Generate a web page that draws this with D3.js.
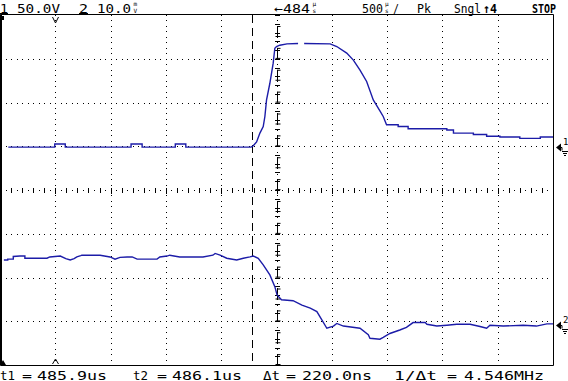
<!DOCTYPE html>
<html>
<head>
<meta charset="utf-8">
<script src="https://cdn.jsdelivr.net/npm/d3@7"></script>
<style>
  body { margin: 0; background: #fff; }
  text { font-family: "DejaVu Sans Mono", monospace; fill: #000; }
</style>
</head>
<body>
<script>
// trace data in screen divisions (x: 0..10, y: -4..4 from center)
var ch1X = [0.15, 0.99, 0.99, 1.18, 1.18, 2.37, 2.37, 2.57, 2.57, 3.17, 3.17, 3.36, 3.36, 4.54, 4.58, 4.64, 4.70, 4.76,
  4.79, 4.82, 4.88, 4.94, 4.97, 5.00, 5.06, 5.19, 5.39, 5.44, 5.50, 5.97, 6.09, 6.27, 6.39, 6.51, 6.63, 6.75, 6.87, 6.93,
  6.99, 7.20, 7.20, 7.38, 7.38, 8.08, 8.08, 8.20, 8.20, 8.56, 8.56, 8.80, 8.80, 9.04, 9.04, 9.40, 9.40, 9.77, 9.77, 10.0];
var ch1Y = [0.98, 0.98, 1.05, 1.05, 0.98, 0.98, 1.05, 1.05, 0.98, 0.98, 1.05, 1.05, 0.98, 0.98, 1.01, 1.10, 1.30, 1.45,
  1.68, 2.06, 2.44, 2.90, 3.24, 3.28, 3.31, 3.34, 3.35, null, 3.35, 3.34, 3.28, 3.13, 2.97, 2.74, 2.48, 2.06, 1.81, 1.68,
  1.49, 1.49, 1.45, 1.45, 1.40, 1.40, 1.37, 1.37, 1.30, 1.30, 1.27, 1.27, 1.23, 1.23, 1.21, 1.21, 1.18, 1.18, 1.21, 1.21];

var ch2X = [0.07, 0.14, 0.14, 0.24, 0.24, 0.36, 0.45, 0.45, 0.85, 0.90, 1.09, 1.19, 1.27, 1.34, 1.39, 1.46, 1.48, 1.81,
  1.99, 2.08, 2.17, 2.30, 2.39, 2.48, 2.84, 2.89, 3.02, 3.07, 3.25, 3.67, 3.85, 3.89, 3.98, 4.10, 4.28, 4.40, 4.52, 4.58,
  4.67, 4.76, 4.88, 4.97, 5.01, 5.09, 5.30, 5.46, 5.61, 5.73, 5.82, 5.91, 6.03, 6.09, 6.21, 6.51, 6.66, 6.69, 6.87, 6.93,
  7.05, 7.23, 7.35, 7.47, 7.69, 7.72, 7.90, 8.08, 8.26, 8.50, 8.68, 8.80, 8.86, 9.10, 9.46, 9.70, 9.89, 10.0];
var ch2Y = [-1.60, -1.60, -1.58, -1.58, -1.52, -1.51, -1.51, -1.56, -1.56, -1.53, -1.51, -1.57, -1.60, -1.57, -1.53,
  -1.50, -1.49, -1.49, -1.53, -1.58, -1.54, -1.53, -1.53, -1.58, -1.58, -1.53, -1.51, -1.49, -1.53, -1.53, -1.49, -1.45,
  -1.49, -1.56, -1.60, -1.56, -1.53, -1.51, -1.56, -1.71, -1.94, -2.21, -2.40, -2.51, -2.53, -2.63, -2.70, -2.78, -2.97,
  -3.16, -3.11, -3.05, -3.11, -3.16, -3.31, -3.39, -3.41, -3.37, -3.28, -3.20, -3.14, -3.03, -3.03, -3.07, -3.11, -3.09,
  -3.07, -3.07, -3.12, -3.16, -3.09, -3.11, -3.09, -3.11, -3.06, -3.06];

// cursors t1, t2 and trigger position (divisions)
var cursorX = [4.56, 5.00];
var trigX = 1.0;
// channel ground levels (divisions)
var groundY = [0.98, -3.08];
var groundNames = ["1", "2"];

var topLabels = ["1", "50.0V", "2", "10.0", "\u2190484", "500", "/", "Pk", "Sngl", "\u21914", "STOP"];
var unitLabels = [["m", "V"], ["\u00b5", "s"], ["\u00b5", "s"]];
var bottomLabels = ["t1", "=", "485.9us", "t2", "=", "486.1us", "\u0394t", "=", "220.0ns", "1/\u0394t", "=", "4.546MHz"];

var svgWidth = 568;
var svgHeight = 381;
var traceColor = "#1c1ca8";

var svg = d3.select("body")
  .append("svg")
  .attr("width", svgWidth)
  .attr("height", svgHeight);

var x = d3.scaleLinear().domain([0, 10]).range([0, 553]);
var y = d3.scaleLinear().domain([-4, 4]).range([365, 15]);

// grid dots
var grid = svg.append("g");
d3.range(1, 10).forEach(function(i) {
  if (i === 5) return;
  d3.range(0, 65).forEach(function(k) {
    grid.append("rect")
      .attr("x", Math.round(x(i)))
      .attr("y", Math.round(y(-4 + k / 8)))
      .attr("width", 1).attr("height", 1).attr("fill", "#000");
  });
});
d3.range(-3, 4).forEach(function(j) {
  if (j === 0) return;
  d3.range(0, 101).forEach(function(k) {
    grid.append("rect")
      .attr("x", Math.round(x(k / 10)))
      .attr("y", Math.round(y(j)))
      .attr("width", 1).attr("height", 1).attr("fill", "#000");
  });
});

// center axes with minor ticks
d3.range(0, 101).forEach(function(k) {
  var px = Math.round(x(k / 10));
  if (k % 2 === 0) {
    grid.append("rect").attr("x", px).attr("y", Math.round(y(0)) - 2)
      .attr("width", 1).attr("height", k % 10 === 0 ? 6 : 5).attr("fill", "#000");
  } else {
    grid.append("rect").attr("x", px).attr("y", Math.round(y(0)))
      .attr("width", 1).attr("height", 1).attr("fill", "#000");
  }
});
d3.range(0, 41).forEach(function(k) {
  var py = Math.round(y(-4 + k / 5));
  grid.append("rect").attr("x", Math.round(x(5)) - 2).attr("y", py)
    .attr("width", 5).attr("height", 1).attr("fill", "#000");
});
d3.range(0, 65).forEach(function(k) {
  grid.append("rect").attr("x", Math.round(x(5))).attr("y", Math.round(y(-4 + k / 8)))
    .attr("width", 1).attr("height", 1).attr("fill", "#000");
});

// frame
svg.append("path")
  .attr("d", "M0.5," + (y(-4) + 0.5) + "V" + (y(4) - 0.5) + "H" + (x(10) + 0.5) + "V" + (y(-4) + 0.5) + "H0.5")
  .attr("fill", "none").attr("stroke", "#000").attr("stroke-width", 1);
svg.append("rect").attr("x", 0).attr("y", 15).attr("width", 2).attr("height", 350).attr("fill", "#000");

// cursors
svg.append("line")
  .attr("x1", Math.round(x(cursorX[0])) + 0.5).attr("x2", Math.round(x(cursorX[0])) + 0.5)
  .attr("y1", y(4)).attr("y2", y(-4))
  .attr("stroke", "#000").attr("stroke-dasharray", "8,5");
var t2px = Math.round(x(cursorX[1])) + 0.5;
d3.range(0, 16).forEach(function(k) {
  var y0 = y(4) + 11 + k * 21.875;
  if (y0 > y(-4)) return;
  svg.append("path")
    .attr("d", "M" + (t2px) + "," + y0 + "V" + Math.min(y0 + 11, y(-4)) +
      "M" + (t2px) + "," + (y0 + 0.5) + "H" + (t2px + 3) +
      "M" + (t2px - 2) + "," + (Math.min(y0 + 11, y(-4)) - 0.5) + "H" + (t2px + 3))
    .attr("fill", "none").attr("stroke", "#000").attr("stroke-width", 1);
});

// traces
var line = d3.line()
  .defined(function(d) { return d[1] !== null; })
  .x(function(d) { return x(d[0]); })
  .y(function(d) { return y(d[1]); });

svg.append("path")
  .datum(d3.zip(ch1X, ch1Y))
  .attr("d", line)
  .attr("fill", "none").attr("stroke", traceColor).attr("stroke-width", 1.4);

svg.append("path")
  .datum(d3.zip(ch2X, ch2Y))
  .attr("d", line)
  .attr("fill", "none").attr("stroke", traceColor).attr("stroke-width", 1.4);

// trigger position markers
var tpx = Math.round(x(trigX)) + 0.5;
svg.append("path")
  .attr("d", "M" + (tpx - 3) + ",17L" + tpx + ",23L" + (tpx + 3) + ",17")
  .attr("fill", "none").attr("stroke", "#000");
svg.append("path")
  .attr("d", "M" + (tpx - 3) + ",364L" + tpx + ",359L" + (tpx + 3) + ",364")
  .attr("fill", "none").attr("stroke", "#000");
svg.append("rect").attr("x", 0).attr("y", 16).attr("width", 4).attr("height", 4).attr("fill", "#000");
svg.append("path").attr("d", "M0,365L3,360L6,365Z").attr("fill", "#000");

// ground markers on the right
groundY.forEach(function(g, i) {
  var gy = Math.round(y(g)) + 0.5;
  svg.append("path")
    .attr("d", "M556," + gy + "L561," + (gy - 4) + "V" + (gy + 4) + "Z")
    .attr("fill", "#000");
  svg.append("path")
    .attr("d", "M560," + gy + "H562V" + (gy + 3))
    .attr("fill", "none").attr("stroke", "#000");
  svg.append("path")
    .attr("d", "M562," + (gy + 4) + "H568M563," + (gy + 6) + "H567M564," + (gy + 8) + "H566")
    .attr("fill", "none").attr("stroke", "#000");
  svg.append("text")
    .attr("x", 563).attr("y", gy - 3)
    .style("font-size", "9px")
    .text(groundNames[i]);
});

// status line on top
var topPos = [[0, 8], [17, 43], [79, 9], [97, 34], [274, 36], [362, 21], [393, 6], [417, 14], [454, 27], [483, 14], [532, 24]];
topLabels.forEach(function(s, i) {
  svg.append("text")
    .attr("x", topPos[i][0]).attr("y", 12.5)
    .attr("textLength", topPos[i][1])
    .attr("lengthAdjust", "spacingAndGlyphs")
    .style("font-size", "12.5px")
    .style("font-weight", (i === 9 || i === 10) ? "bold" : "normal")
    .text(s);
});
// underlines for channel numbers
svg.append("rect").attr("x", 0).attr("y", 13).attr("width", 8).attr("height", 1.5).attr("fill", "#000");
svg.append("rect").attr("x", 79).attr("y", 13).attr("width", 9).attr("height", 1.5).attr("fill", "#000");

// stacked small unit glyphs, one text each
var unitX = [133.5, 312.5, 385];
unitLabels.forEach(function(u, i) {
  var t = svg.append("text").style("font-size", "6px");
  t.append("tspan").attr("x", unitX[i]).attr("y", 5.5).text(u[0]);
  t.append("tspan").attr("x", unitX[i]).attr("y", 13).text(u[1]);
});

// cursor readout on bottom
var bottomPos = [[0, 15], [22, 10], [37, 70], [133, 15], [157, 10], [172, 70], [263, 17], [286, 10], [302, 70], [394, 43], [447, 10], [464, 80]];
bottomLabels.forEach(function(s, i) {
  svg.append("text")
    .attr("x", bottomPos[i][0]).attr("y", 379.5)
    .attr("textLength", bottomPos[i][1])
    .attr("lengthAdjust", "spacingAndGlyphs")
    .style("font-size", "13px")
    .text(s);
});
</script>
</body>
</html>
